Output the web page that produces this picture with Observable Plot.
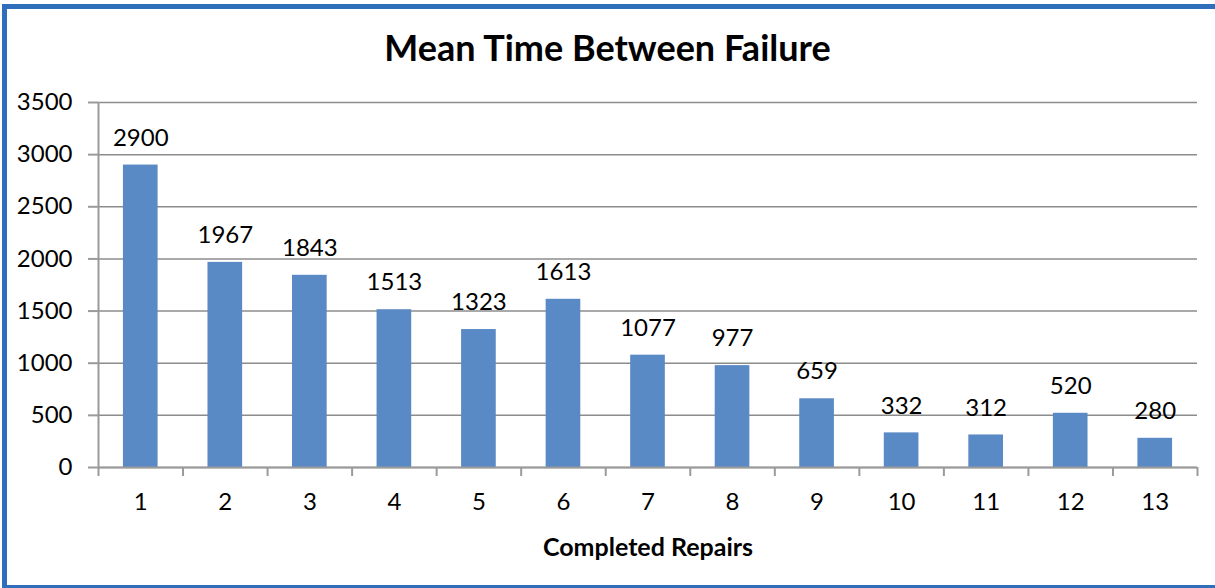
<!DOCTYPE html>
<html>
<head>
<meta charset="utf-8">
<script src="https://cdn.jsdelivr.net/npm/d3@7"></script>
<script src="https://cdn.jsdelivr.net/npm/@observablehq/plot@0.6"></script>
<style>
  html, body { margin: 0; padding: 0; background: #fff; }
  #wrap { position: relative; width: 1215px; height: 588px; overflow: hidden; font-family: Lato, "Liberation Sans", sans-serif; }
  #frame { position: absolute; left: 2px; top: 4px; width: 1213px; height: 584px; box-sizing: border-box;
           border-top: 5px solid #2F6EBA; border-left: 5px solid #2F6EBA; border-bottom: 3px solid #2F6EBA; pointer-events: none; }
  #title { height: 80px; box-sizing: border-box; padding-top: 29px; line-height: 36px; font-size: 36px; font-weight: bold;
           text-align: center; color: #000; }
  #chart svg { display: block; }
</style>
</head>
<body>
<div id="wrap">
  <div id="frame"></div>
  <div id="title">Mean Time Between Failure</div>
  <div id="chart"></div>
</div>
<script>
const title = "Mean Time Between Failure";
const xLabel = "Completed Repairs";
const repairs = [1, 2, 3, 4, 5, 6, 7, 8, 9, 10, 11, 12, 13];
const mtbf = [2900, 1967, 1843, 1513, 1323, 1613, 1077, 977, 659, 332, 312, 520, 280];
const yTicks = [0, 500, 1000, 1500, 2000, 2500, 3000, 3500];

const data = repairs.map((r, i) => ({repair: r, value: mtbf[i]}));
const boundaries = repairs.map(r => r - 0.5).concat(repairs[repairs.length - 1] + 0.5);
const halfBar = 0.205;
const barColor = "#5A8AC6";
const axisColor = "#9a9a9a";
const gridColor = "#8c8c8c";
const font = "Lato, 'Liberation Sans', sans-serif";

const chart = Plot.plot({
  width: 1215,
  height: 508,
  marginTop: 22,
  marginBottom: 121,
  marginLeft: 98,
  marginRight: 18,
  style: {fontFamily: font, color: "#000", background: "transparent", overflow: "visible"},
  x: {type: "linear", domain: [boundaries[0], boundaries[boundaries.length - 1]]},
  y: {domain: [0, 3500]},
  marks: [
    Plot.gridY(yTicks, {stroke: gridColor, strokeOpacity: 1, strokeWidth: 1.5}),
    Plot.rectY(data, {x1: d => d.repair - halfBar, x2: d => d.repair + halfBar, y1: 0, y2: "value", fill: barColor}),
    Plot.ruleY([0], {stroke: axisColor, strokeWidth: 2}),
    Plot.ruleX([boundaries[0]], {y1: 0, y2: 3500, stroke: axisColor, strokeWidth: 2}),
    Plot.axisY(yTicks, {tickSize: 10, tickPadding: 16, fontSize: 24, tickFormat: d => String(d), stroke: axisColor, strokeWidth: 2, strokeOpacity: 1, label: null, fill: "#000"}),
    Plot.axisX(boundaries, {tickSize: 9, tickFormat: () => "", stroke: axisColor, strokeWidth: 2, strokeOpacity: 1, label: null}),
    Plot.axisX(repairs, {tickSize: 0, tickPadding: 25, fontSize: 24, tickFormat: d => String(d), label: null, fill: "#000"}),
    Plot.text(data, {x: "repair", y: "value", text: d => String(d.value), dy: -27, lineAnchor: "middle", fontSize: 24, fill: "#000"}),
    Plot.text([xLabel], {frameAnchor: "bottom", dy: 80, lineAnchor: "middle", fontSize: 25, fontWeight: "bold", fill: "#000"})
  ]
});
document.getElementById("chart").appendChild(chart);
</script>
</body>
</html>
